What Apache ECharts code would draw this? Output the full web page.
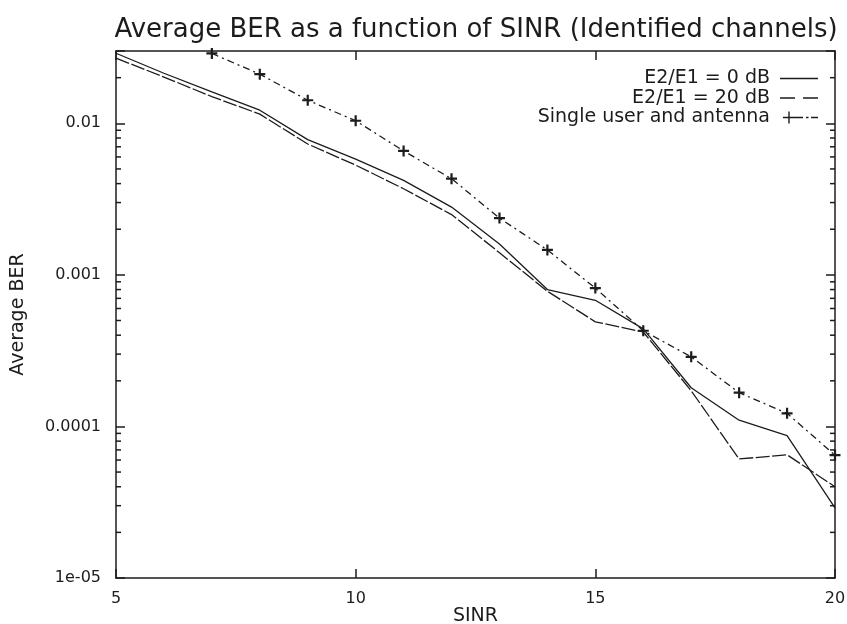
<!DOCTYPE html>
<html>
<head>
<meta charset="utf-8">
<script src="https://cdn.jsdelivr.net/npm/echarts@6/dist/echarts.min.js"></script>
<style>
  html, body { margin: 0; padding: 0; background: #ffffff; }
  #chart { width: 847px; height: 624px; }
</style>
</head>
<body>
<div id="chart"></div>
<script>
// ---- Data ----
const sinr = [5, 6, 7, 8, 9, 10, 11, 12, 13, 14, 15, 16, 17, 18, 19, 20];
const ber0dB = [0.029, 0.0214, 0.0161, 0.0122, 0.0078, 0.0058, 0.0042, 0.0028, 0.0016, 0.00080, 0.00068, 0.00044, 0.00018, 0.00011, 0.000087, 0.000029];
const ber20dB = [0.0269, 0.0202, 0.0150, 0.0115, 0.0073, 0.0053, 0.0037, 0.0025, 0.0014, 0.00078, 0.00049, 0.00042, 0.000172, 0.000061, 0.000065, 0.000040];
const singleSinr = [7, 8, 9, 10, 11, 12, 13, 14, 15, 16, 17, 18, 19, 20];
const singleUser = [0.0289, 0.0211, 0.0142, 0.0104, 0.00657, 0.00431, 0.00237, 0.00146, 0.000818, 0.000428, 0.000288, 0.000167, 0.000122, 0.0000646];

const seriesNames = ['E2/E1 = 0 dB', 'E2/E1 = 20 dB', 'Single user and antenna'];
const xTicks = [5, 10, 15, 20];
const yTickValues = [0.00001, 0.0001, 0.001, 0.01];
const yTickLabels = ['1e-05', '0.0001', '0.001', '0.01'];
const yMin = 0.00001, yMax = 0.03;
const minorMantissas = [2, 3, 4, 5, 6, 7, 8, 9];

// minor tick positions on the log axis (gnuplot style)
const minorTicks = [];
yTickValues.forEach(d => minorMantissas.forEach(m => { const v = m * d; if (v < yMax) minorTicks.push([xTicks[0], v]); }));

const FONT = 'DejaVu Sans';
const INK = '#1c1c1c';

// legend sample icons (38 x 14 box)
const BOX = 'M0,0M38,14';
const iconSolid = 'path://' + BOX + 'M0,6.3h38v1.4h-38z';
const iconDashed = 'path://' + BOX + 'M0,6.3h15v1.4h-15zM23,6.3h15v1.4h-15z';
const iconDashDotPlus = 'path://' + BOX + 'M3,6.3h12v1.4h-12zM8.3,1h1.4v12h-1.4zM15,6.3h8v1.4h-8zM26,6.3h2.5v1.4h-2.5zM31,6.3h7v1.4h-7z';
const legendIcons = [iconSolid, iconDashed, iconDashDotPlus];

function yLabel(v) {
  for (let i = 0; i < yTickValues.length; i++) {
    if (Math.abs(Math.log10(v) - Math.log10(yTickValues[i])) < 1e-6) return yTickLabels[i];
  }
  return '';
}

const chart = echarts.init(document.getElementById('chart'), null, { renderer: 'canvas' });
const axisLine = { show: true, lineStyle: { color: INK, width: 1.5 } };
const majorTick = { show: true, inside: true, length: 9, lineStyle: { color: INK, width: 1.5 } };

chart.setOption({
  backgroundColor: '#ffffff',
  animation: false,
  title: {
    text: 'Average BER as a function of SINR (Identified channels)',
    left: 471, top: 12, textAlign: 'center',
    textStyle: { fontFamily: FONT, fontSize: 26, fontWeight: 'normal', color: INK }
  },
  legend: {
    data: seriesNames.map((n, i) => ({ name: n, icon: legendIcons[i] })),
    orient: 'vertical', right: 24, top: 64, align: 'right',
    itemWidth: 38, itemHeight: 14, itemGap: 0.5, symbolKeepAspect: true,
    itemStyle: { color: INK, borderWidth: 0 },
    textStyle: { fontFamily: FONT, fontSize: 19, color: INK, lineHeight: 16, padding: [0, 5, 0, 0] }
  },
  grid: { left: 116, right: 12, top: 51, bottom: 46, containLabel: false, outerBoundsMode: 'none' },
  xAxis: [{
    type: 'value', min: xTicks[0], max: xTicks[xTicks.length - 1], interval: 5,
    name: 'SINR', nameLocation: 'middle', nameGap: 29, nameMoveOverlap: false,
    nameTextStyle: { fontFamily: FONT, fontSize: 19, color: INK },
    axisLine, axisTick: majorTick, splitLine: { show: false },
    axisLabel: { fontFamily: FONT, fontSize: 16, color: INK, margin: 13 }
  }, {
    type: 'value', position: 'top', min: xTicks[0], max: xTicks[xTicks.length - 1], interval: 5,
    axisLine, axisTick: majorTick, splitLine: { show: false }, axisLabel: { show: false }
  }],
  yAxis: [{
    type: 'log', logBase: 10, min: yMin, max: yMax, splitNumber: 4,
    name: 'Average BER', nameLocation: 'middle', nameGap: 88, nameMoveOverlap: false,
    nameTextStyle: { fontFamily: FONT, fontSize: 19, color: INK },
    axisLine, axisTick: majorTick, splitLine: { show: false },
    axisLabel: { fontFamily: FONT, fontSize: 16, color: INK, margin: 15, formatter: yLabel }
  }, {
    type: 'log', logBase: 10, min: yMin, max: yMax, splitNumber: 4, position: 'right',
    axisLine, axisTick: majorTick, splitLine: { show: false }, axisLabel: { show: false }
  }],
  series: [{
    name: seriesNames[0], type: 'line',
    data: sinr.map((x, i) => [x, ber0dB[i]]),
    symbol: 'none', showSymbol: false,
    lineStyle: { color: INK, width: 1.3, type: 'solid' },
    itemStyle: { color: INK }
  }, {
    name: seriesNames[1], type: 'line',
    data: sinr.map((x, i) => [x, ber20dB[i]]),
    symbol: 'none', showSymbol: false,
    lineStyle: { color: INK, width: 1.3, type: [14, 2.5] },
    itemStyle: { color: INK }
  }, {
    name: seriesNames[2], type: 'line',
    data: singleSinr.map((x, i) => [x, singleUser[i]]),
    symbol: 'path://M4,0h2v4h4v2h-4v4h-2v-4h-4v-2h4z', symbolSize: 11,
    lineStyle: { color: INK, width: 1.3, type: [7, 4, 2, 4] },
    itemStyle: { color: INK }
  }, {
    name: 'minorTicks', type: 'custom', silent: true,
    data: minorTicks,
    encode: { x: 0, y: 1 },
    renderItem: function (params, api) {
      const v = api.value(1);
      const pL = api.coord([xTicks[0], v]);
      const pR = api.coord([xTicks[xTicks.length - 1], v]);
      const st = { stroke: INK, lineWidth: 1.5 };
      return {
        type: 'group', children: [
          { type: 'line', shape: { x1: pL[0], y1: pL[1], x2: pL[0] + 5, y2: pL[1] }, style: st },
          { type: 'line', shape: { x1: pR[0] - 5, y1: pR[1], x2: pR[0], y2: pR[1] }, style: st }
        ]
      };
    }
  }]
});
</script>
</body>
</html>
